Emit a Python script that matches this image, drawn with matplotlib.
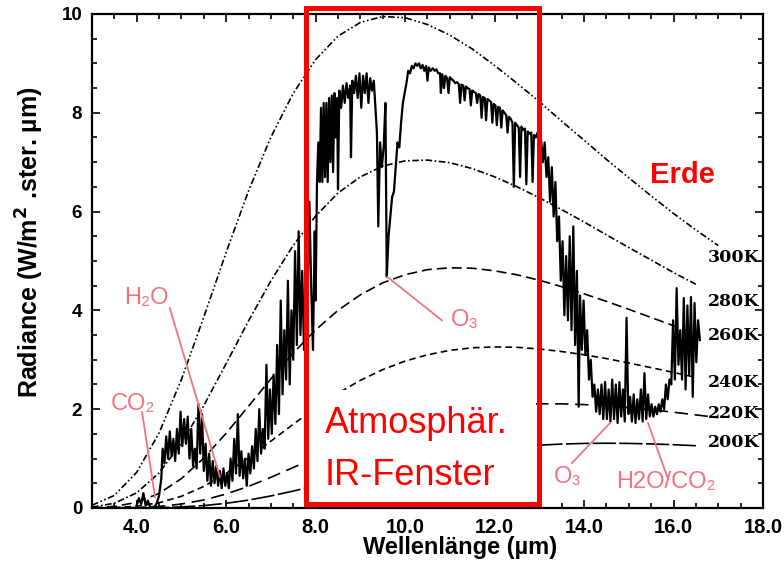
import matplotlib
matplotlib.use("Agg")
import matplotlib.pyplot as plt
from matplotlib.patches import Rectangle

# ---------------- data ----------------
wl = [3.0, 3.5, 4.0, 4.5, 5.0, 5.5, 6.0, 6.5, 7.0, 7.5, 8.0, 8.5, 9.0, 9.5, 10.0,
      10.5, 11.0, 11.5, 12.0, 12.5, 13.0, 13.5, 14.0, 14.5, 15.0, 15.5, 16.0, 16.5, 17.0]

b300 = [0.056, 0.254, 0.722, 1.518, 2.602, 3.865, 5.176, 6.418, 7.508, 8.396, 9.077, 9.552,
        9.829, 9.950, 9.925, 9.787, 9.572, 9.294, 8.958, 8.599, 8.226, 7.830, 7.444, 7.057,
        6.685, 6.318, 5.962, 5.629, 5.312]
b280 = [0.018, 0.095, 0.307, 0.709, 1.312, 2.073, 2.924, 3.788, 4.598, 5.318, 5.911, 6.376,
        6.703, 6.921, 7.027, 7.043, 6.990, 6.871, 6.704, 6.504, 6.279, 6.040, 5.790, 5.530,
        5.272, 5.020, 4.766, 4.528]
b260 = [0.005, 0.031, 0.114, 0.295, 0.595, 1.011, 1.513, 2.060, 2.615, 3.138, 3.605, 4.001,
        4.316, 4.558, 4.722, 4.825, 4.862, 4.854, 4.801, 4.721, 4.610, 4.480, 4.335, 4.183,
        4.022, 3.856, 3.690, 3.526]
b240 = [0.001, 0.008, 0.036, 0.106, 0.237, 0.437, 0.701, 1.014, 1.353, 1.696, 2.024, 2.323,
        2.585, 2.801, 2.974, 3.101, 3.191, 3.243, 3.260, 3.253, 3.218, 3.167, 3.102, 3.025,
        2.935, 2.841, 2.744, 2.644]
b220 = [0.000, 0.002, 0.009, 0.032, 0.080, 0.162, 0.283, 0.438, 0.621, 0.820, 1.024, 1.223,
        1.409, 1.578, 1.723, 1.844, 1.942, 2.014, 2.065, 2.097, 2.109, 2.108, 2.093, 2.066,
        2.030, 1.988, 1.939, 1.885, 1.829]
b200 = [0.000, 0.000, 0.002, 0.007, 0.022, 0.049, 0.095, 0.160, 0.244, 0.343, 0.452, 0.566,
        0.682, 0.792, 0.895, 0.989, 1.070, 1.138, 1.195, 1.240, 1.272, 1.294, 1.307, 1.311,
        1.307, 1.297, 1.281, 1.261]

curve_labels = ["300K", "280K", "260K", "240K", "220K", "200K"]
curve_label_y = [5.08, 4.17, 3.50, 2.55, 1.92, 1.32]

spec_x = [4.00, 4.05, 4.10, 4.15, 4.20, 4.25, 4.30, 4.40, 4.45, 4.50, 4.55, 4.58, 4.62, 4.66,
          4.70, 4.74, 4.78, 4.82, 4.86, 4.90, 4.94, 4.98, 5.02, 5.06, 5.10, 5.14, 5.18, 5.22,
          5.26, 5.30, 5.34, 5.38, 5.42, 5.46, 5.50, 5.54, 5.58, 5.62, 5.66, 5.70, 5.74, 5.78,
          5.82, 5.86, 5.90, 5.94, 5.98, 6.02, 6.06, 6.10, 6.14, 6.18, 6.22, 6.26, 6.30, 6.34,
          6.38, 6.42, 6.46, 6.50, 6.54, 6.58, 6.62, 6.66, 6.70, 6.74, 6.78, 6.82, 6.86, 6.90,
          6.94, 6.98, 7.02, 7.06, 7.10, 7.14, 7.18, 7.22, 7.26, 7.30, 7.34, 7.38, 7.42, 7.46,
          7.50, 7.54, 7.58, 7.62, 7.66, 7.70, 7.74, 7.78, 7.82, 7.86, 7.90, 7.94, 7.98,
          8.00, 8.03, 8.06, 8.09, 8.12, 8.15, 8.18, 8.21, 8.24, 8.27, 8.30, 8.33, 8.36, 8.39,
          8.42, 8.45, 8.48, 8.50, 8.53, 8.57, 8.61, 8.65, 8.69, 8.73, 8.77, 8.79, 8.82, 8.86,
          8.90, 8.94, 8.98, 9.02, 9.06, 9.10, 9.14, 9.18, 9.22, 9.26, 9.30, 9.34, 9.37, 9.40,
          9.44, 9.48, 9.52, 9.56, 9.59, 9.63, 9.67, 9.71, 9.75, 9.79, 9.83, 9.87, 9.91, 9.95,
          9.99, 10.03, 10.07, 10.11, 10.15, 10.19, 10.23, 10.27, 10.31, 10.35, 10.39, 10.43,
          10.47, 10.50, 10.53, 10.57, 10.62, 10.66, 10.70, 10.74, 10.78, 10.80, 10.83, 10.87,
          10.90, 10.94, 10.97, 11.00, 11.04, 11.08, 11.12, 11.16, 11.20, 11.23, 11.26, 11.30,
          11.33, 11.36, 11.40, 11.44, 11.47, 11.50, 11.54, 11.58, 11.61, 11.64, 11.68, 11.71,
          11.74, 11.78, 11.81, 11.84, 11.88, 11.92, 11.95, 11.98, 12.02, 12.05, 12.08, 12.12,
          12.15, 12.18, 12.22, 12.26, 12.29, 12.32, 12.36, 12.40, 12.43, 12.46, 12.50, 12.54,
          12.57, 12.60, 12.64, 12.68, 12.71, 12.74, 12.78, 12.82, 12.85, 12.88, 12.92, 12.96,
          13.00, 13.04, 13.08, 13.12, 13.16, 13.20, 13.24, 13.28, 13.32, 13.36, 13.40, 13.44,
          13.48, 13.52, 13.56, 13.60, 13.64, 13.68, 13.72, 13.76, 13.80, 13.84, 13.88, 13.91,
          13.95, 13.99, 14.03, 14.07, 14.11, 14.15, 14.19, 14.23, 14.27, 14.31, 14.35, 14.39,
          14.43, 14.47, 14.51, 14.55, 14.59, 14.63, 14.67, 14.71, 14.75, 14.79, 14.83, 14.87,
          14.91, 14.95, 14.99, 15.03, 15.07, 15.11, 15.15, 15.19, 15.23, 15.27, 15.31, 15.35,
          15.39, 15.43, 15.47, 15.51, 15.55, 15.59, 15.63, 15.67, 15.71, 15.75, 15.79, 15.83,
          15.87, 15.91, 15.95, 15.99, 16.03, 16.07, 16.11, 16.15, 16.19, 16.23, 16.27, 16.31,
          16.35, 16.39, 16.43, 16.47, 16.51, 16.55, 16.59]
spec_y = [0.05, 0.20, 0.08, 0.30, 0.05, 0.15, 0.02, 0.02, 0.10, 0.25, 0.60, 1.20, 0.90, 1.45,
          1.00, 1.55, 1.05, 1.40, 0.95, 1.60, 1.10, 1.95, 1.25, 1.80, 1.30, 1.85, 1.00, 1.60,
          0.85, 1.20, 0.80, 2.10, 1.10, 1.90, 0.75, 1.30, 0.55, 1.10, 0.45, 0.95, 0.50, 0.85,
          0.45, 0.75, 0.40, 0.80, 0.45, 0.70, 0.40, 1.00, 0.55, 1.40, 0.70, 1.90, 0.65, 1.15,
          0.60, 1.00, 0.45, 1.10, 0.70, 1.25, 0.80, 1.60, 0.95, 2.00, 1.10, 1.60, 1.20, 2.90,
          1.40, 2.40, 1.50, 2.70, 1.70, 3.30, 1.90, 4.20, 2.30, 3.60, 2.60, 4.60, 2.50, 4.00,
          3.00, 5.20, 3.30, 5.60, 3.50, 4.80, 3.20, 5.00, 4.20, 6.20, 4.50, 3.20, 5.60,
          4.20, 6.60, 7.40, 6.60, 8.10, 6.60, 8.20, 6.70, 8.20, 6.60, 8.30, 7.00, 8.35, 6.80,
          8.40, 7.50, 8.30, 6.45, 8.45, 8.10, 8.55, 8.20, 8.60, 8.30, 8.55, 7.10, 8.65, 8.40,
          8.75, 8.30, 8.80, 8.10, 8.75, 8.40, 8.80, 8.20, 8.70, 8.45, 8.65, 8.05, 7.60, 5.70,
          7.40, 6.90, 7.30, 8.20, 4.68, 5.50, 5.90, 6.30, 6.40, 6.90, 7.40, 7.30, 7.80, 8.20,
          8.40, 8.60, 8.85, 8.80, 8.95, 8.90, 9.00, 8.95, 9.00, 8.90, 8.97, 8.85,
          8.95, 8.65, 8.92, 8.85, 8.90, 8.85, 8.88, 8.80, 8.80, 8.40, 8.78, 8.50,
          8.75, 8.70, 8.40, 8.72, 8.68, 8.65, 8.60, 8.62, 8.58, 8.20, 8.57, 8.55,
          8.25, 8.53, 8.50, 8.48, 8.15, 8.45, 8.42, 8.40, 8.20, 8.38, 8.35, 7.90,
          8.32, 8.30, 7.85, 8.28, 8.25, 8.22, 7.80, 8.18, 8.15, 7.75, 8.12, 8.10,
          7.70, 8.05, 8.00, 7.95, 7.60, 7.92, 7.88, 7.80, 6.50, 7.80, 7.75, 7.70,
          6.70, 7.72, 7.65, 7.68, 6.55, 7.62, 7.58, 7.60, 6.60, 7.55, 7.50, 7.60,
          7.30, 7.45, 7.00, 7.40, 6.70, 7.10, 6.20, 6.90, 5.90, 6.60, 5.40, 5.90,
          4.60, 5.40, 3.90, 5.10, 3.80, 5.50, 3.60, 5.70, 3.30, 4.80, 2.05, 4.30,
          3.20, 4.20, 3.10, 3.60, 2.60, 3.00, 2.25, 2.50, 1.95, 2.40, 1.90, 2.50,
          1.80, 2.55, 1.80, 2.40, 1.75, 2.60, 1.80, 2.50, 1.72, 2.55, 1.85, 2.40,
          1.75, 3.85, 1.90, 2.25, 1.75, 2.30, 1.72, 2.20, 1.80, 2.40, 1.75, 2.73,
          1.80, 2.30, 1.85, 2.10, 1.85, 2.05, 1.90, 2.10, 1.95, 2.20, 2.00, 2.50,
          2.20, 2.60, 2.50, 3.80, 2.60, 4.45, 2.90, 3.60, 2.60, 4.25, 2.40, 4.10,
          2.70, 4.27, 2.25, 4.15, 2.95, 3.80, 3.40]

x_ticks = [4, 6, 8, 10, 12, 14, 16, 18]
y_ticks = [0, 2, 4, 6, 8, 10]

# ---------------- figure ----------------
fig = plt.figure(figsize=(7.84, 5.62), dpi=100)
ax = fig.add_axes([0.1173, 0.0961, 0.8559, 0.879])

sans = ["Liberation Sans", "DejaVu Sans"]

styles = [
    ((0, (4, 1.5, 1, 1.5, 1, 1.5)), b300),
    ((0, (4, 1.5, 1, 1.5)), b280),
    ((0, (6, 3)), b260),
    ((0, (4, 2.5)), b240),
    ((0, (8, 4)), b220),
    ((0, (14, 2)), b200),
]
for ls, vals in styles:
    ax.plot(wl[:len(vals)], vals, color="black", lw=1.2, ls=ls, zorder=2)

ax.plot(spec_x, spec_y, color="black", lw=1.6, zorder=2)

# white text background inside the window box
ax.add_patch(Rectangle((7.85, 0.10), 5.08, 2.29, facecolor="white", edgecolor="none",
                       zorder=3))
# red window box
ax.add_patch(Rectangle((7.79, 0.08), 5.21, 10.04, facecolor="none", edgecolor="#ff0000",
                       lw=3.6, zorder=5, clip_on=False))

ax.text(8.21, 1.52, "Atmosphär.", color="#ff0000", fontsize=26, family=sans,
        va="baseline", ha="left", zorder=6)
ax.text(8.21, 0.47, "IR-Fenster", color="#ff0000", fontsize=26, family=sans,
        va="baseline", ha="left", zorder=6)
ax.text(15.47, 6.58, "Erde", color="#ff0000", fontsize=21, fontweight="bold", family=sans,
        va="baseline", ha="left", zorder=6)

for lab, yy in zip(curve_labels, curve_label_y):
    ax.text(17.92, yy, lab, fontsize=12.5, fontweight="bold", family="DejaVu Serif",
            ha="right", va="center", zorder=6)

# annotations
pink = "#f2737e"
ann = [
    ("H₂O", (4.21, 4.25), (4.74, 4.05), (5.86, 0.63)),
    ("CO₂", (3.92, 2.10), (4.12, 1.94), (4.41, 0.22)),
    ("O₃", (11.34, 3.80), (10.82, 3.80), (9.60, 4.68)),
    ("O₃", (13.64, 0.63), (13.73, 0.91), (14.58, 1.72)),
    ("H2O/CO₂", (15.83, 0.53), (15.86, 0.63), (15.43, 1.72)),
]
for txt, tpos, p0, p1 in ann:
    ax.text(tpos[0], tpos[1], txt, color=pink, fontsize=17, family=sans,
            ha="center", va="center", zorder=6)
    ax.plot([p0[0], p1[0]], [p0[1], p1[1]], color=pink, lw=1.3, zorder=6)

# axes
ax.set_xlim(3, 18)
ax.set_ylim(0, 10)
ax.set_xticks(x_ticks)
ax.set_xticklabels([f"{v:.1f}" for v in x_ticks])
ax.set_yticks(y_ticks)
ax.set_yticklabels([str(v) for v in y_ticks])
ax.set_xticks([3 + 0.5 * i for i in range(31)], minor=True)
ax.set_yticks([0.5 * i for i in range(21)], minor=True)
ax.tick_params(which="both", direction="in", top=True, right=True, width=1.2)
ax.tick_params(which="major", length=6, pad=7)
ax.tick_params(which="minor", length=3.5)
for lab in ax.get_xticklabels():
    lab.set_fontfamily(sans)
    lab.set_fontweight("bold")
    lab.set_fontsize(14.5)
for lab in ax.get_yticklabels():
    lab.set_fontfamily(sans)
    lab.set_fontweight("bold")
    lab.set_fontsize(13.5)
for sp in ax.spines.values():
    sp.set_linewidth(1.6)

ax.set_xlabel("Wellenlänge (µm)", fontsize=17, fontweight="bold", family=sans, va="center")
ax.set_ylabel(r"Radiance (W/m$^\mathbf{2}$ .ster. µm)", fontsize=18, fontweight="bold",
              family=sans, va="center")
ax.xaxis.set_label_coords(0.548, -0.08)
ax.yaxis.set_label_coords(-0.092, 0.538)

fig.savefig("out.png", dpi=100)
